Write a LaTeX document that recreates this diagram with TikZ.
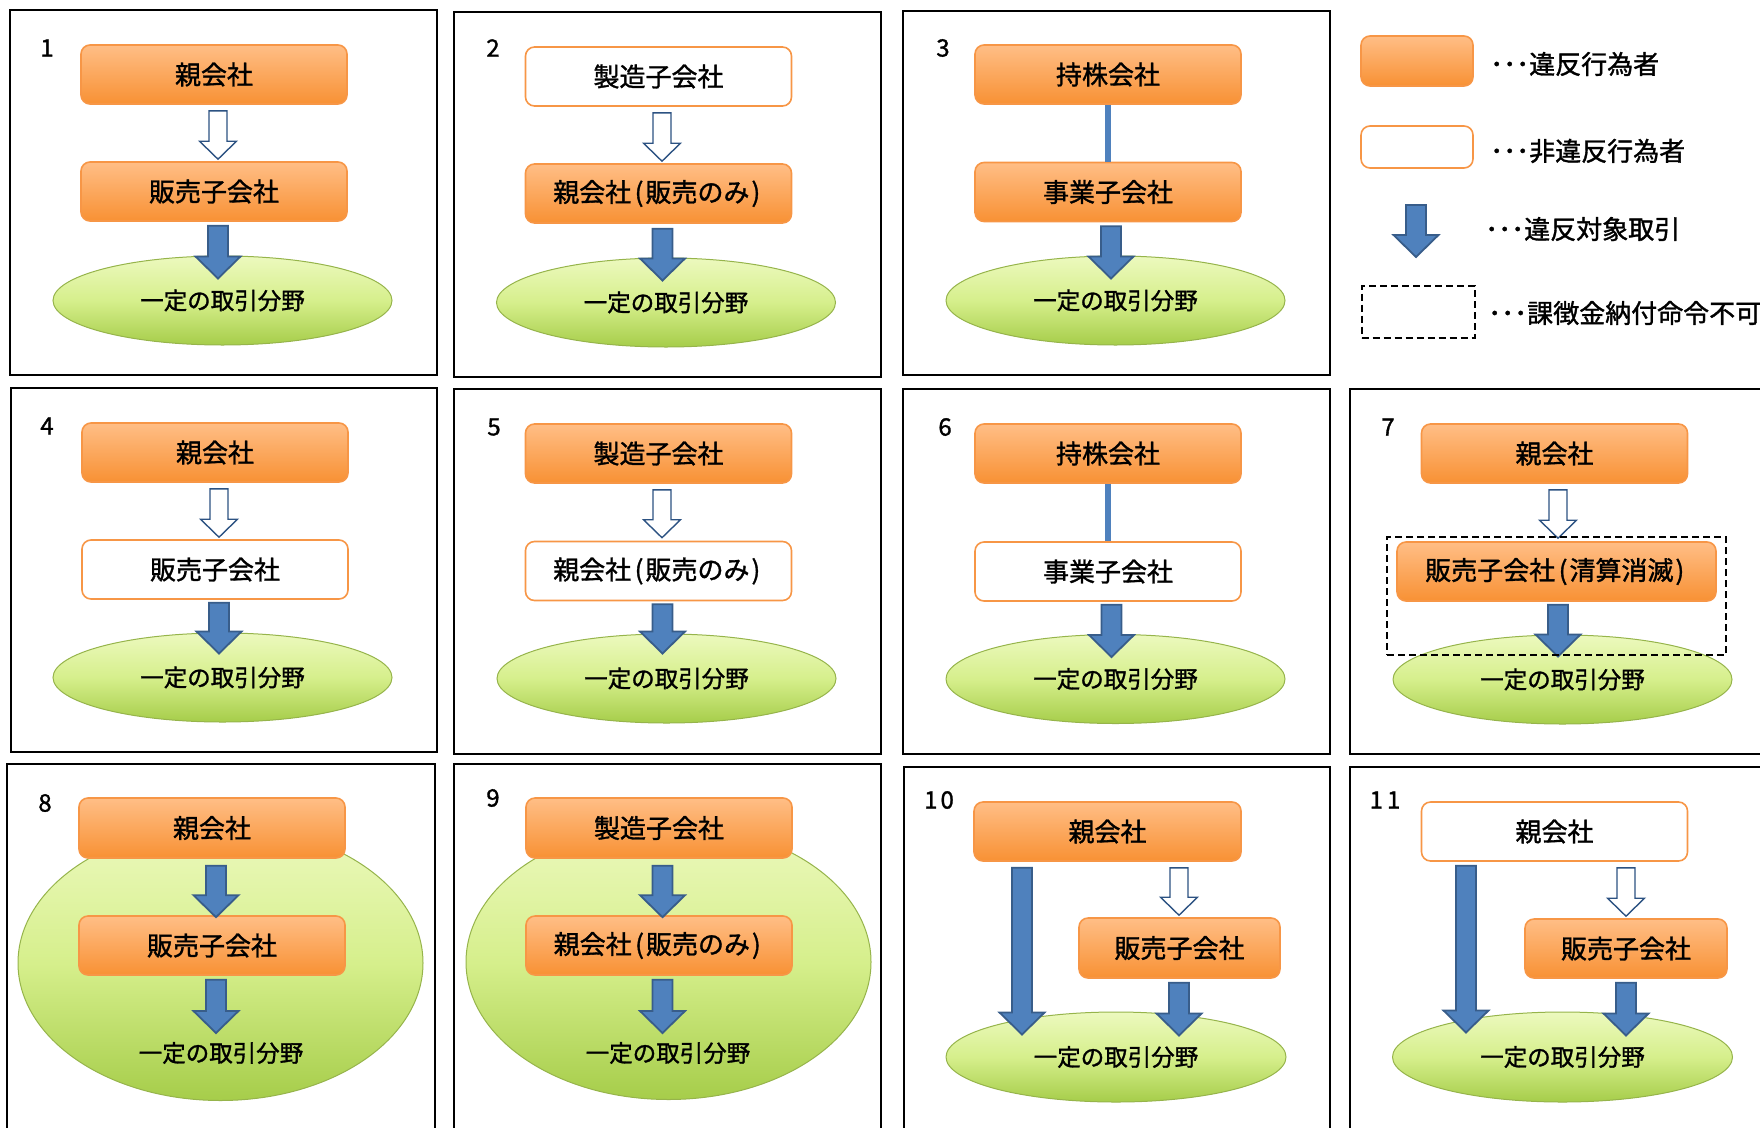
\documentclass[tikz,border=0pt]{standalone}
\usepackage{fontspec}
\setmainfont{Noto Sans CJK JP}[FakeBold=1.3]
\usetikzlibrary{calc,shapes.geometric}
\definecolor{orT}{RGB}{255,190,134}
\definecolor{orB}{RGB}{248,145,52}
\definecolor{orD}{RGB}{247,150,70}
\definecolor{arF}{RGB}{79,129,189}
\definecolor{arD}{RGB}{56,93,138}
\definecolor{hoD}{RGB}{44,82,130}
\definecolor{gT}{RGB}{236,249,190}
\definecolor{gM}{RGB}{214,239,140}
\definecolor{gB}{RGB}{166,205,74}
\definecolor{gD}{RGB}{150,180,75}
\newcommand{\lp}{\kern3.5pt(\kern2pt}
\newcommand{\rp}{\kern2pt)\kern3.5pt}
\begin{document}
\begin{tikzpicture}[x=1pt,y=-1pt,
  panel/.style={draw=black,line width=2.5pt},
  boxbase/.style={rectangle,rounded corners=9pt,minimum width=266pt,minimum height=59pt,inner sep=0pt,line width=1.6pt,draw=orD,font=\fontsize{26}{30}\selectfont},
  vio/.style={boxbase,top color=orT,bottom color=orB},
  non/.style={boxbase,fill=white},
  mkt/.style={ellipse,minimum width=339pt,minimum height=89pt,inner sep=0pt,top color=gT,bottom color=gB,middle color=gM,draw=gD,line width=1pt,font=\fontsize{23.5}{28}\selectfont},
  bigmkt/.style={ellipse,minimum width=405pt,minimum height=275pt,inner sep=0pt,top color=gT,bottom color=gB,middle color=gM,draw=gD,line width=1pt},
  mtext/.style={inner sep=0pt,font=\fontsize{23.5}{28}\selectfont},
  lbl/.style={inner sep=0pt,font=\fontsize{24}{26}\selectfont},
  lgt/.style={inner sep=0pt,anchor=west,font=\fontsize{26}{30}\selectfont},
  dbox/.style={rectangle,draw=black,line width=2pt,dash pattern=on 7pt off 4pt,inner sep=0pt},
  lnk/.style={draw=arF,line width=6pt},
  solidarr/.style={fill=arF,draw=arD,line width=1.8pt,line join=miter,
    to path={let \p1=(\tikztostart), \p2=(\tikztotarget) in
      (\x1-10pt,\y1) -- (\x1+10pt,\y1) -- (\x1+10pt,\y2+22pt) -- (\x1+22.5pt,\y2+22pt)
      -- (\x1,\y2) -- (\x1-22.5pt,\y2+22pt) -- (\x1-10pt,\y2+22pt) -- cycle}},
  hollowarr/.style={fill=white,draw=hoD,line width=1.4pt,line join=miter,
    to path={let \p1=(\tikztostart), \p2=(\tikztotarget) in
      (\x1-9pt,\y1) -- (\x1+9pt,\y1) -- (\x1+9pt,\y2+18pt) -- (\x1+18.5pt,\y2+18pt)
      -- (\x1,\y2) -- (\x1-18.5pt,\y2+18pt) -- (\x1-9pt,\y2+18pt) -- cycle}}
]
\useasboundingbox (0,0) rectangle (1760,1127);

% panel frames
\draw[panel] (10,10) rectangle (437,375);
\draw[panel] (454,12) rectangle (881,377);
\draw[panel] (903,11) rectangle (1330,375);
\draw[panel] (11,388) rectangle (437,752);
\draw[panel] (454,389) rectangle (881,754);
\draw[panel] (903,389) rectangle (1330,754);
\draw[panel] (1350,389) rectangle (1800,754);
\draw[panel] (7,764) rectangle (435,1160);
\draw[panel] (454,764) rectangle (881,1160);
\draw[panel] (904,767) rectangle (1330,1160);
\draw[panel] (1350,767) rectangle (1800,1160);

% ---------- panel 1
\node[lbl] (n1) at (47,48) {1};
\node[mkt] (m1) at (222.5,300.5) {一定の取引分野};
\node[vio] (a1) at (214,74.5) {親会社};
\node[vio] (b1) at (214,191.5) {販売子会社};
\draw[hollowarr] ([shift={(4,6)}]a1.south) to ([shift={(0,-2)}]b1.north);
\draw[solidarr] ([shift={(4,4)}]b1.south) to ([shift={(0,23)}]m1.north);

% ---------- panel 2
\node[lbl] (n2) at (493,48) {2};
\node[mkt] (m2) at (666,302.5) {一定の取引分野};
\node[non] (a2) at (658.5,76.5) {製造子会社};
\node[vio] (b2) at (658.5,193.5) {親会社\lp 販売のみ\rp};
\draw[hollowarr] ([shift={(3.5,6)}]a2.south) to ([shift={(0,-2)}]b2.north);
\draw[solidarr] ([shift={(4,5)}]b2.south) to ([shift={(0,23)}]m2.north);

% ---------- panel 3
\node[lbl] (n3) at (943,48) {3};
\node[mkt] (m3) at (1115.5,300.5) {一定の取引分野};
\node[vio] (a3) at (1108,74.5) {持株会社};
\node[vio] (b3) at (1108,192) {事業子会社};
\draw[lnk] (a3) -- (b3);
\draw[solidarr] ([shift={(3,4)}]b3.south) to ([shift={(0,23)}]m3.north);

% ---------- legend
\node[vio,minimum width=112pt,minimum height=50pt] (lg1) at (1417,61) {};
\node[lgt] (lt1) at (1490,64) {･･･違反行為者};
\node[non,minimum width=112pt,minimum height=42pt] (lg2) at (1417,147) {};
\node[lgt] (lt2) at (1490,151) {･･･非違反行為者};
\coordinate (lg3s) at (1416,205);
\coordinate (lg3e) at (1416,257);
\draw[solidarr] (lg3s) to (lg3e);
\node[lgt] (lt3) at (1485,229) {･･･違反対象取引};
\node[dbox,minimum width=113pt,minimum height=52pt] (lg4) at (1418,311.5) {};
\node[lgt] (lt4) at (1488,313) {･･･課徴金納付命令不可};

% ---------- panel 4
\node[lbl] (n4) at (47,426) {4};
\node[mkt] (m4) at (222.5,677.5) {一定の取引分野};
\node[vio] (a4) at (215,452.5) {親会社};
\node[non] (b4) at (215,569.5) {販売子会社};
\draw[hollowarr] ([shift={(4,6)}]a4.south) to ([shift={(0,-2)}]b4.north);
\draw[solidarr] ([shift={(4,3)}]b4.south) to ([shift={(0,21)}]m4.north);

% ---------- panel 5
\node[lbl] (n5) at (494,427) {5};
\node[mkt] (m5) at (666.5,678.5) {一定の取引分野};
\node[vio] (a5) at (658.5,453.5) {製造子会社};
\node[non] (b5) at (658.5,571) {親会社\lp 販売のみ\rp};
\draw[hollowarr] ([shift={(3.5,6)}]a5.south) to ([shift={(0,-3)}]b5.north);
\draw[solidarr] ([shift={(4,3)}]b5.south) to ([shift={(0,20)}]m5.north);

% ---------- panel 6
\node[lbl] (n6) at (945,427) {6};
\node[mkt] (m6) at (1115.5,679) {一定の取引分野};
\node[vio] (a6) at (1108,453.5) {持株会社};
\node[non] (b6) at (1108,571.5) {事業子会社};
\draw[lnk] (a6) -- (b6);
\draw[solidarr] ([shift={(3.5,3)}]b6.south) to ([shift={(0,23)}]m6.north);

% ---------- panel 7
\node[lbl] (n7) at (1388,427) {7};
\node[mkt] (m7) at (1562.5,679.5) {一定の取引分野};
\node[vio] (a7) at (1554.5,453.5) {親会社};
\node[vio,minimum width=319pt] (b7) at (1556.5,571.5) {販売子会社\lp 清算消滅\rp};
\draw[hollowarr] ([shift={(3.5,6)}]a7.south) to ([shift={(0,-3)}]b7.north);
\draw[solidarr] ([shift={(1.5,3)}]b7.south) to ([shift={(0,22)}]m7.north);
\node[dbox,minimum width=339pt,minimum height=118pt] (d7) at (1556.5,596) {};

% ---------- panel 8
\node[lbl] (n8) at (45,803) {8};
\node[bigmkt] (m8) at (220.5,963) {};
\node[mtext] (t8) at (221,1053) {一定の取引分野};
\node[vio,minimum height=60pt] (a8) at (212,828) {親会社};
\node[vio] (b8) at (212,945.5) {販売子会社};
\draw[solidarr] ([shift={(4,7)}]a8.south) to ([shift={(0,2)}]b8.north);
\draw[solidarr] ([shift={(4,4)}]b8.south) to ([shift={(0,-20)}]t8.center);

% ---------- panel 9
\node[lbl] (n9) at (493,798) {9};
\node[bigmkt] (m9) at (668.5,962) {};
\node[mtext] (t9) at (668,1053) {一定の取引分野};
\node[vio,minimum height=60pt] (a9) at (659,828) {製造子会社};
\node[vio] (b9) at (659,945.5) {親会社\lp 販売のみ\rp};
\draw[solidarr] ([shift={(3.5,7)}]a9.south) to ([shift={(0,2)}]b9.north);
\draw[solidarr] ([shift={(3.5,4)}]b9.south) to ([shift={(0,-20)}]t9.center);

% ---------- panel 10
\node[lbl] (n10) at (939,800) {1\kern3pt 0};
\node[mkt,minimum width=340pt,minimum height=90pt] (m10) at (1116,1057) {一定の取引分野};
\node[vio,minimum width=267pt] (a10) at (1107.5,831.5) {親会社};
\node[vio,minimum width=201pt,minimum height=60pt] (b10) at (1179.5,948) {販売子会社};
\draw[solidarr] ([shift={(-85.5,6)}]a10.south) to ([shift={(0,23)}]m10.north);
\draw[hollowarr] ([shift={(71.5,6)}]a10.south) to ([shift={(0,-2)}]b10.north);
\draw[solidarr] ([shift={(-0.5,4)}]b10.south) to ([shift={(0,24)}]m10.north);

% ---------- panel 11
\node[lbl] (n11) at (1385,800) {1\kern4pt 1};
\node[mkt,minimum width=340pt,minimum height=90pt] (m11) at (1562.5,1057) {一定の取引分野};
\node[non] (a11) at (1554.5,831.5) {親会社};
\node[vio,minimum width=202pt] (b11) at (1626,948.5) {販売子会社};
\draw[solidarr] ([shift={(-88.5,4)}]a11.south) to ([shift={(0,21)}]m11.north);
\draw[hollowarr] ([shift={(71.5,6)}]a11.south) to ([shift={(0,-2)}]b11.north);
\draw[solidarr] ([shift={(0,4)}]b11.south) to ([shift={(0,24)}]m11.north);
\end{tikzpicture}
\end{document}
